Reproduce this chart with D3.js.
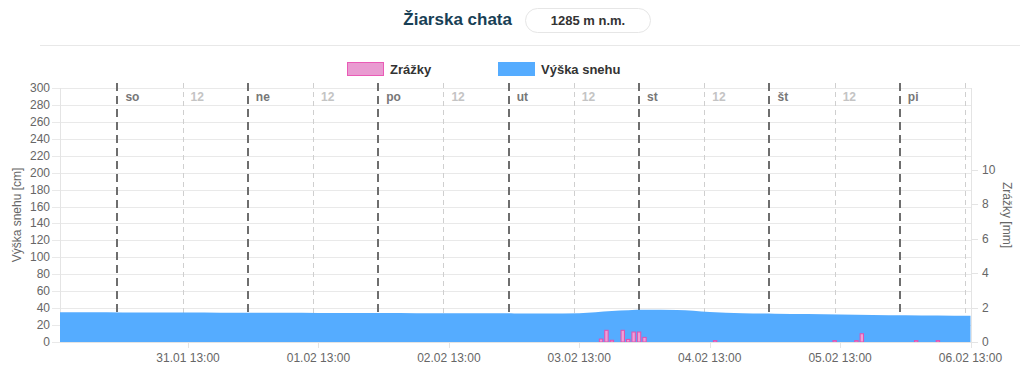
<!DOCTYPE html>
<html>
<head>
<meta charset="utf-8">
<script src="https://cdn.jsdelivr.net/npm/d3@7"></script>
<style>
  body { margin: 0; background: #fff; font-family: "Liberation Sans", Arial, sans-serif; }
  svg { display: block; }
</style>
</head>
<body>
<div id="chart"></div>
<script>
// snow depth, every 6 hours from 30.01 13:00 (cm)
var snowStart = "2026-01-30T13:00";
var snowDepth = [35, 35, 34.9, 34.8, 34.7, 34.6, 34.5, 34.5, 34.4, 34.3, 34.2, 34.1, 34, 33.9, 33.8, 33.6,
                 34, 36.5, 38, 37.8, 35.5, 34, 33.5, 33, 32.5, 32, 31.7, 31.3, 31];

// hourly precipitation (mm), only non-zero hours
var precipTimes = ["2026-02-03T17:00", "2026-02-03T18:00", "2026-02-03T19:00", "2026-02-03T21:00",
                   "2026-02-03T22:00", "2026-02-03T23:00", "2026-02-04T00:00", "2026-02-04T01:00",
                   "2026-02-04T14:00", "2026-02-05T12:00", "2026-02-05T16:00", "2026-02-05T17:00",
                   "2026-02-06T03:00", "2026-02-06T07:00"];
var precipValues = [0.17, 0.68, 0.1, 0.68, 0.15, 0.58, 0.58, 0.27, 0.08, 0.08, 0.08, 0.48, 0.08, 0.08];

var dayNames = ["so", "ne", "po", "ut", "st", "št", "pi"];
var snowTicks = [0, 20, 40, 60, 80, 100, 120, 140, 160, 180, 200, 220, 240, 260, 280, 300];
var precipTicks = [0, 2, 4, 6, 8, 10];

var width = 1024, height = 371;
var margin = {top: 88, right: 53, bottom: 29, left: 60};
var parse = d3.utcParse("%Y-%m-%dT%H:%M");
var fmt = d3.utcFormat("%d.%m %H:%M");

var t0 = parse(snowStart);
var snow = snowDepth.map(function(v, i) { return {t: d3.utcHour.offset(t0, i * 6), v: v}; });
var precip = precipTimes.map(function(s, i) { return {t: parse(s), v: precipValues[i]}; });

var x = d3.scaleUtc()
    .domain([parse("2026-01-30T13:26"), parse("2026-02-06T13:00")])
    .range([margin.left, width - margin.right - 0.5]);
var y = d3.scaleLinear().domain([0, 300]).range([height - margin.bottom, margin.top]);
var y2 = d3.scaleLinear().domain([0, 14.77]).range([height - margin.bottom, margin.top]);

var svg = d3.select("#chart").append("svg")
    .attr("width", width)
    .attr("height", height);

svg.append("clipPath").attr("id", "plot")
  .append("rect")
    .attr("x", margin.left).attr("y", 0)
    .attr("width", width - margin.left - margin.right).attr("height", height);

// header
svg.append("text")
    .attr("x", 512).attr("y", 25)
    .attr("text-anchor", "end")
    .style("font-size", "17px").style("font-weight", "bold")
    .style("fill", "#183f55")
    .text("Žiarska chata");
svg.append("rect")
    .attr("x", 525.5).attr("y", 8.5).attr("width", 125).attr("height", 24).attr("rx", 12)
    .style("fill", "#fff").style("stroke", "#e6e6e6");
svg.append("text")
    .attr("x", 588).attr("y", 25)
    .attr("text-anchor", "middle")
    .style("font-size", "13px").style("font-weight", "bold").style("fill", "#333")
    .text("1285 m n.m.");
svg.append("line")
    .attr("x1", 40).attr("x2", 1020).attr("y1", 45.5).attr("y2", 45.5)
    .style("stroke", "#e8e8e8");

// legend
var legend = [
  {name: "Zrážky", x: 347, fill: "#e99bd1", stroke: "#ea5bb6"},
  {name: "Výška snehu", x: 498, fill: "#55acff", stroke: "#55acff"}
];
var lg = svg.append("g").selectAll("g").data(legend).enter().append("g");
lg.append("rect")
    .attr("x", function(d) { return d.x + 0.5; }).attr("y", 62.5)
    .attr("width", 36).attr("height", 13)
    .style("fill", function(d) { return d.fill; })
    .style("stroke", function(d) { return d.stroke; });
lg.append("text")
    .attr("x", function(d) { return d.x + 43; }).attr("y", 74)
    .style("font-size", "13px").style("font-weight", "bold").style("fill", "#333")
    .text(function(d) { return d.name; });

// horizontal grid
svg.append("g").selectAll("line").data(snowTicks).enter().append("line")
    .attr("x1", margin.left - 8).attr("x2", width - margin.right)
    .attr("y1", function(d) { return Math.round(y(d)) + 0.5; })
    .attr("y2", function(d) { return Math.round(y(d)) + 0.5; })
    .style("stroke", "#e9e9e9");

// right axis tick marks
svg.append("g").selectAll("line").data(precipTicks).enter().append("line")
    .attr("x1", width - margin.right).attr("x2", width - margin.right + 7)
    .attr("y1", function(d) { return Math.round(y2(d)) + 0.5; })
    .attr("y2", function(d) { return Math.round(y2(d)) + 0.5; })
    .style("stroke", "#e4e4e4");

// vertical axis borders
svg.append("line")
    .attr("x1", margin.left + 0.5).attr("x2", margin.left + 0.5)
    .attr("y1", margin.top).attr("y2", height - margin.bottom)
    .style("stroke", "#e4e4e4");
svg.append("line")
    .attr("x1", width - margin.right + 0.5).attr("x2", width - margin.right + 0.5)
    .attr("y1", margin.top).attr("y2", height - margin.bottom)
    .style("stroke", "#e4e4e4");

// day separators (midnight) and noon lines
var days = d3.utcDay.range(d3.utcDay.ceil(t0), x.domain()[1]);
var noons = days.map(function(d) { return d3.utcHour.offset(d, 12); });

svg.append("g").selectAll("line").data(noons).enter().append("line")
    .attr("x1", function(d) { return Math.round(x(d)) + 0.5; })
    .attr("x2", function(d) { return Math.round(x(d)) + 0.5; })
    .attr("y1", 83).attr("y2", height - margin.bottom)
    .style("stroke", "#cfcfcf").style("stroke-dasharray", "5,4");
svg.append("g").selectAll("line").data(days).enter().append("line")
    .attr("x1", function(d) { return Math.round(x(d)); })
    .attr("x2", function(d) { return Math.round(x(d)); })
    .attr("y1", 83).attr("y2", height - margin.bottom)
    .style("stroke", "#6e6e6e").style("stroke-width", 2).style("stroke-dasharray", "8,5");

svg.append("g").selectAll("text").data(days).enter().append("text")
    .attr("x", function(d) { return x(d) + 8; }).attr("y", 101)
    .style("font-size", "12px").style("font-weight", "bold").style("fill", "#777")
    .text(function(d, i) { return dayNames[i]; });
svg.append("g").selectAll("text").data(noons.filter(function(d) { return x(d) < width - margin.right - 20; }))
    .enter().append("text")
    .attr("x", function(d) { return x(d) + 8; }).attr("y", 101)
    .style("font-size", "12px").style("font-weight", "bold").style("fill", "#c4c4c4")
    .text("12");

// snow area
var area = d3.area()
    .x(function(d) { return x(d.t); })
    .y0(y(0))
    .y1(function(d) { return y(d.v); })
    .curve(d3.curveMonotoneX);
svg.append("path")
    .datum(snow)
    .attr("clip-path", "url(#plot)")
    .attr("d", area)
    .style("fill", "#55acff");

// precipitation bars
var bw = 3.4;
svg.append("g").selectAll("rect").data(precip).enter().append("rect")
    .attr("x", function(d) { return x(d.t) - bw / 2; })
    .attr("y", function(d) { return y2(d.v); })
    .attr("width", bw)
    .attr("height", function(d) { return y2(0) - y2(d.v); })
    .style("fill", "#ef9fd6")
    .style("stroke", "#e24fb0")
    .style("stroke-width", 1);

// bottom baseline
svg.append("line")
    .attr("x1", margin.left).attr("x2", width - margin.right)
    .attr("y1", height - margin.bottom + 0.5).attr("y2", height - margin.bottom + 0.5)
    .style("stroke", "#e4e4e4");

// left axis labels
svg.append("g").selectAll("text").data(snowTicks).enter().append("text")
    .attr("x", 50).attr("y", function(d) { return y(d) + 4; })
    .attr("text-anchor", "end")
    .style("font-size", "12px").style("fill", "#666")
    .text(function(d) { return d; });

// right axis labels
svg.append("g").selectAll("text").data(precipTicks).enter().append("text")
    .attr("x", 982).attr("y", function(d) { return y2(d) + 4; })
    .style("font-size", "12px").style("fill", "#666")
    .text(function(d) { return d; });

// time axis
var xTicks = days.map(function(d) { return d3.utcHour.offset(d, 13); });
var xg = svg.append("g");
xg.selectAll("line").data(xTicks).enter().append("line")
    .attr("x1", function(d) { return Math.round(x(d)) + 0.5; })
    .attr("x2", function(d) { return Math.round(x(d)) + 0.5; })
    .attr("y1", height - margin.bottom).attr("y2", height - margin.bottom + 6)
    .style("stroke", "#e4e4e4");
xg.selectAll("text").data(xTicks).enter().append("text")
    .attr("x", function(d) { return x(d); }).attr("y", 362)
    .attr("text-anchor", "middle")
    .style("font-size", "12px").style("fill", "#666")
    .text(function(d) { return fmt(d); });

// axis titles
svg.append("text")
    .attr("transform", "translate(21," + (margin.top + (height - margin.bottom - margin.top) / 2) + ") rotate(-90)")
    .attr("text-anchor", "middle")
    .style("font-size", "12px").style("fill", "#666")
    .text("Výška snehu [cm]");
svg.append("text")
    .attr("transform", "translate(1003,215) rotate(90)")
    .attr("text-anchor", "middle")
    .style("font-size", "12px").style("fill", "#666")
    .text("Zrážky [mm]");
</script>
</body>
</html>
